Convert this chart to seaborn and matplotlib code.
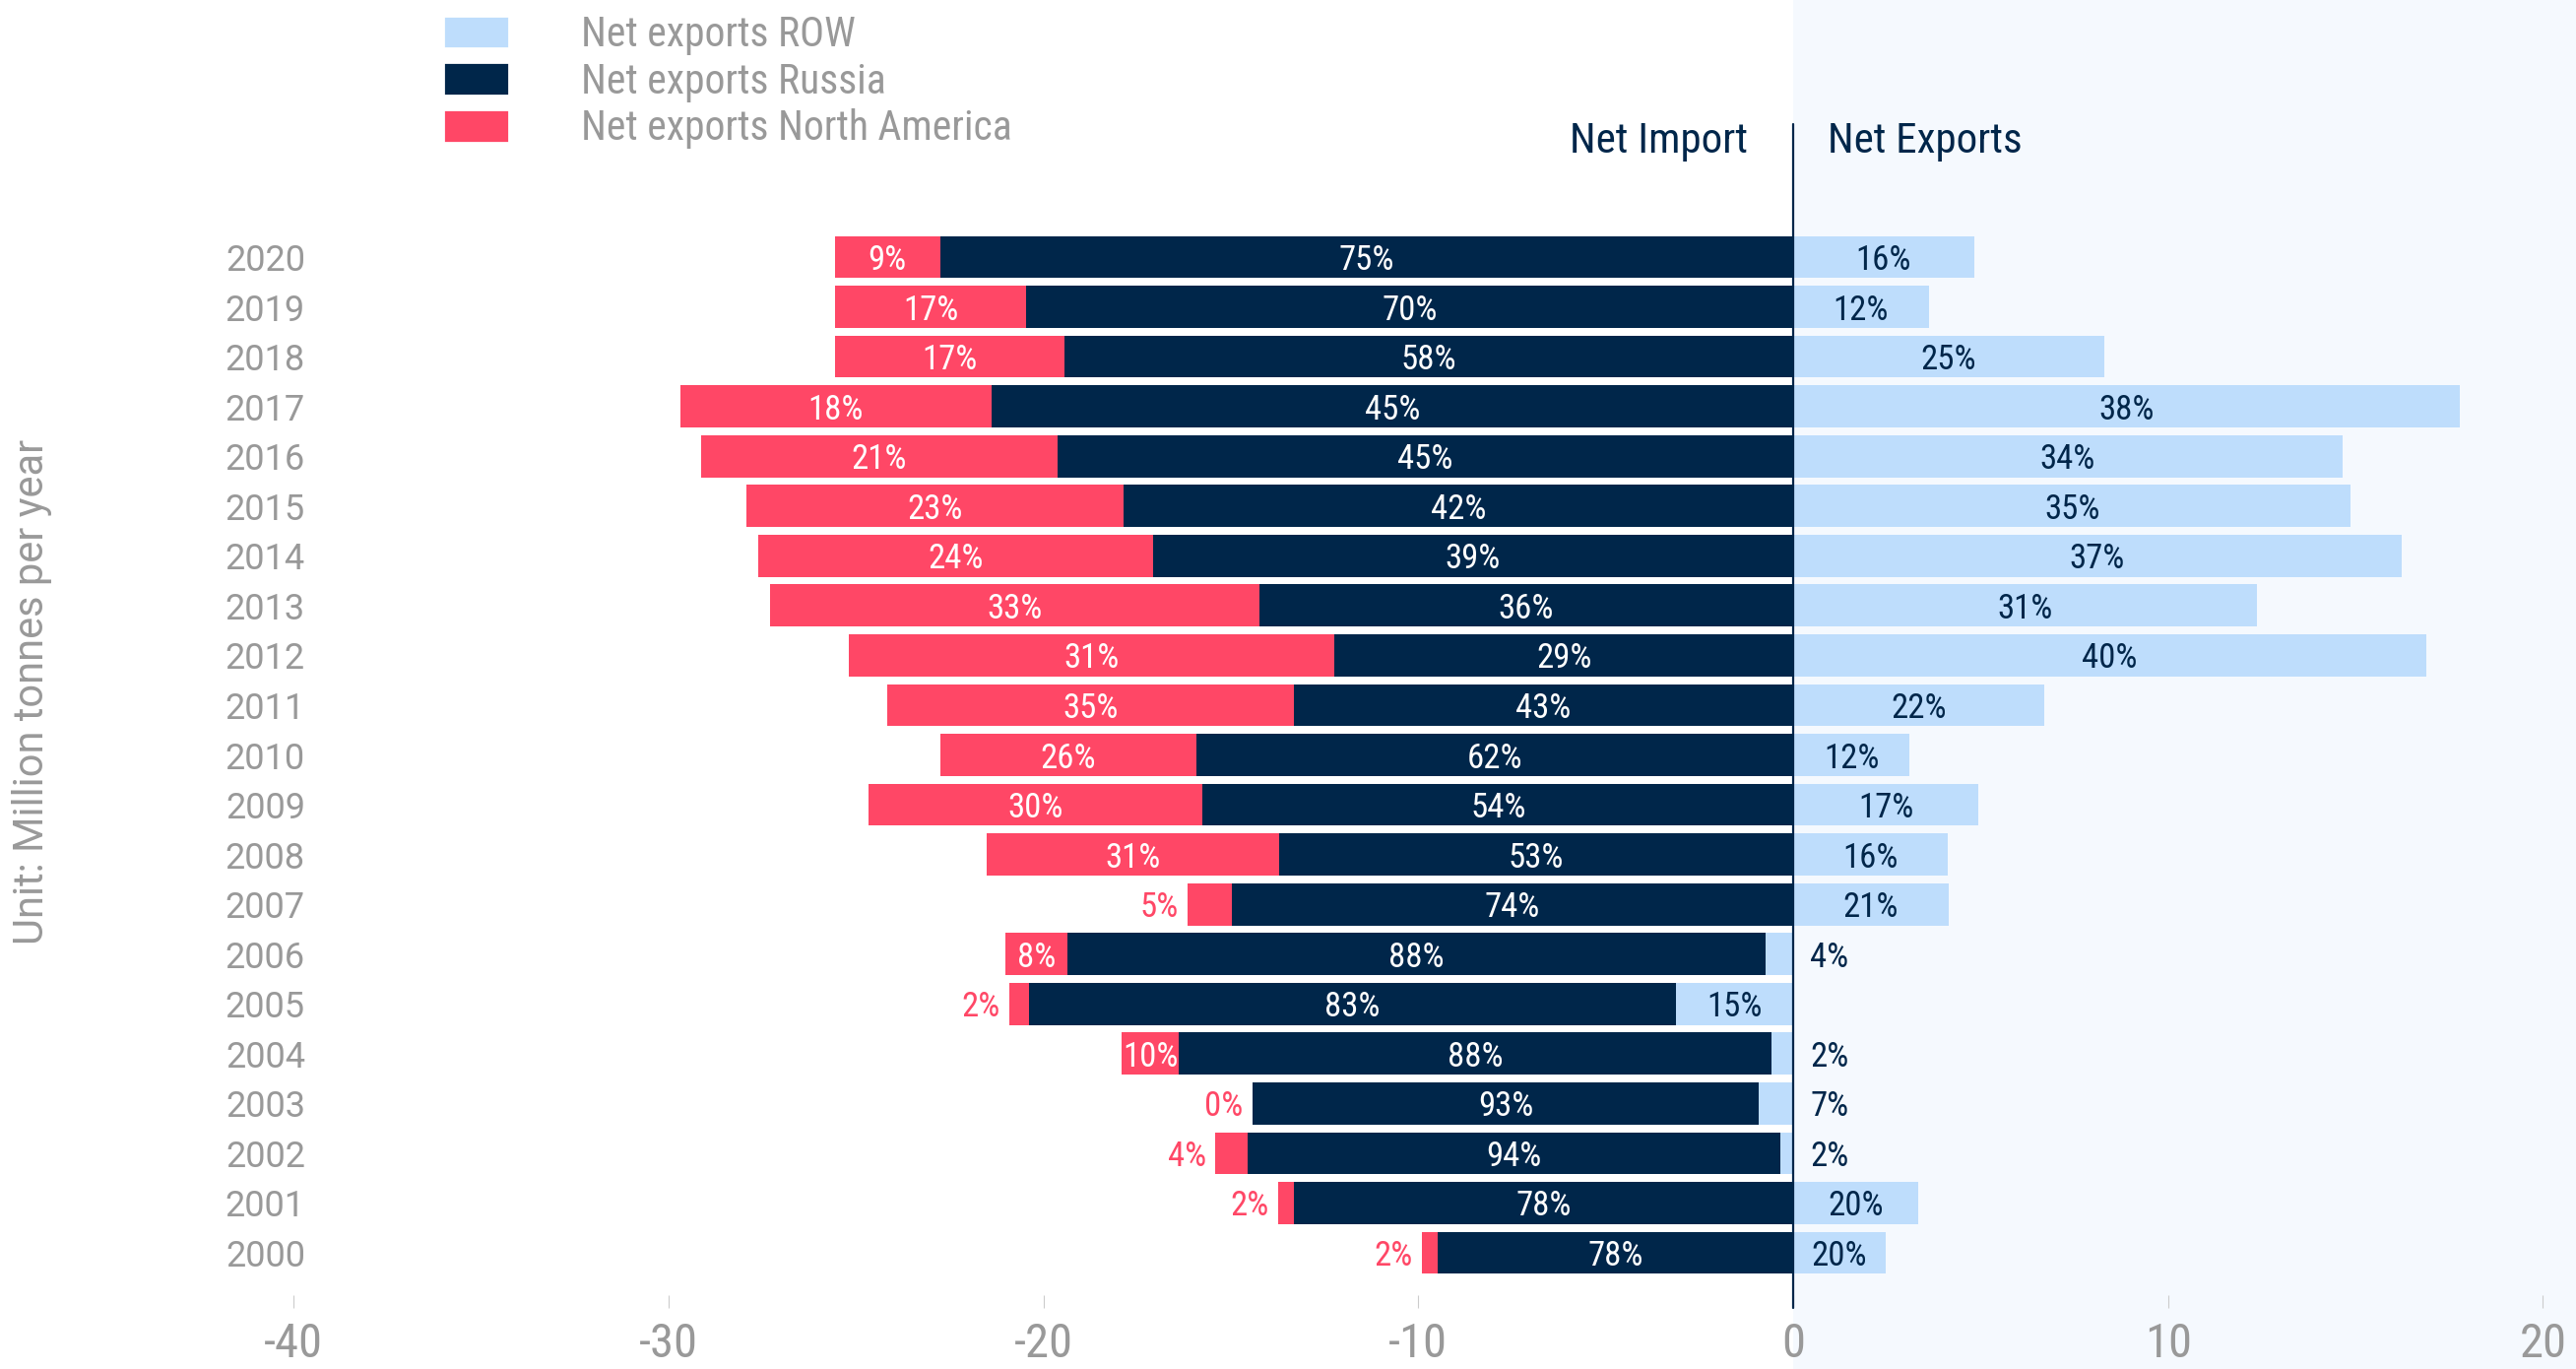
import matplotlib
matplotlib.use('Agg')
import matplotlib.pyplot as plt
import seaborn as sns
import pandas as pd
from matplotlib.patches import Rectangle, Patch
from matplotlib.transforms import blended_transform_factory

# ---------------- data ----------------
years = [str(y) for y in range(2020, 1999, -1)]
row = [4.83, 3.62, 8.30, 17.79, 14.65, 14.88, 16.23, 12.36, 16.89, 6.69, 3.10,
       4.94, 4.13, 4.15, -0.74, -3.13, -0.58, -0.91, -0.34, 3.34, 2.46]
russia = [22.76, 20.46, 19.43, 21.39, 19.63, 17.87, 17.08, 14.25, 12.23, 13.32, 15.93,
          15.75, 13.71, 14.97, 18.61, 17.26, 15.81, 13.52, 14.20, 13.32, 9.49]
north_america = [2.81, 5.09, 6.14, 8.30, 9.51, 10.05, 10.52, 13.04, 12.95, 10.84, 6.83,
                 8.91, 7.81, 1.18, 1.67, 0.52, 1.52, 0.0, 0.87, 0.41, 0.41]
pct_row = [16, 12, 25, 38, 34, 35, 37, 31, 40, 22, 12, 17, 16, 21, 4, 15, 2, 7, 2, 20, 20]
pct_russia = [75, 70, 58, 45, 45, 42, 39, 36, 29, 43, 62, 54, 53, 74, 88, 83, 88, 93, 94, 78, 78]
pct_na = [9, 17, 17, 18, 21, 23, 24, 33, 31, 35, 26, 30, 31, 5, 8, 2, 10, 0, 4, 2, 2]
series_names = ['Net exports ROW', 'Net exports Russia', 'Net exports North America']
x_ticks = [-40, -30, -20, -10, 0, 10, 20]
x_tick_labels = ['-40', '-30', '-20', '-10', '0', '10', '20']

# ---------------- style ----------------
LIGHT = '#BEDDFC'
NAVY = '#00264A'
RED = '#FF4766'
GREY = '#999999'
BG = '#F5F9FE'

sns.set_theme(style='white')
COND = ['Roboto Condensed', 'Roboto', 'DejaVu Sans']
plt.rcParams['font.family'] = COND
plt.rcParams['axes.unicode_minus'] = False

W, H, DPI = 2616, 1390, 200
fig = plt.figure(figsize=(W / DPI, H / DPI), dpi=DPI)
fig.patch.set_facecolor('white')

x0_px, ppu = 1821, 38.07
xmin, xmax = -41.0, 20.85
ax_left_px = x0_px + xmin * ppu
ax_right_px = x0_px + xmax * ppu
ax_top_px, ax_bot_px = 126, 1315
ax = fig.add_axes([ax_left_px / W, 1 - ax_bot_px / H,
                   (ax_right_px - ax_left_px) / W, (ax_bot_px - ax_top_px) / H])
ax.set_facecolor('none')

# light background on the export side
fig.patches.append(Rectangle((x0_px / W, 0), 1 - x0_px / W, 1, transform=fig.transFigure,
                             facecolor=BG, edgecolor='none', zorder=-10))

df = pd.DataFrame({'year': years, 'row': row, 'russia': russia, 'na': north_america})
df['ru_end'] = df['row'].clip(upper=0) - df['russia']
df['na_end'] = df['ru_end'] - df['na']

for col, c in [('na_end', RED), ('ru_end', NAVY), ('row', LIGHT)]:
    sns.barplot(data=df, x=col, y='year', order=years, orient='h', color=c,
                saturation=1, width=0.845, linewidth=0, errorbar=None, ax=ax)

ax.set_xlim(xmin, xmax)
ax.set_ylim(20.85, -2.67)
ax.set_xlabel('')
ax.set_ylabel('')

# value labels
LS = 12.5
VA = 'center_baseline'
for i, r in df.iterrows():
    rneg = min(r['row'], 0)
    ax.text((r['ru_end'] + rneg) / 2, i, f"{pct_russia[i]}%", ha='center', va=VA,
            color='white', fontsize=LS, zorder=6)
    if r['na'] > 1.4:
        ax.text((r['na_end'] + r['ru_end']) / 2, i, f"{pct_na[i]}%", ha='center', va=VA,
                color='white', fontsize=LS, zorder=6)
    else:
        ax.text(r['na_end'] - 0.25, i, f"{pct_na[i]}%", ha='right', va=VA,
                color=RED, fontsize=LS, zorder=6)
    if r['row'] > 0 or abs(r['row']) > 2:
        ax.text(r['row'] / 2, i, f"{pct_row[i]}%", ha='center', va=VA,
                color=NAVY, fontsize=LS, zorder=6)
    else:
        ax.text(0.45, i, f"{pct_row[i]}%", ha='left', va=VA,
                color=NAVY, fontsize=LS, zorder=6)

# zero line
ax.axvline(0, ymin=-13 / (ax_bot_px - ax_top_px), ymax=1, color=NAVY, lw=0.8,
           clip_on=False, zorder=7)

# ticks
ax.set_xticks(x_ticks)
ax.set_xticklabels(x_tick_labels)
ax.tick_params(axis='x', bottom=True, length=4.7, width=0.4, color='#cccccc',
               labelcolor=GREY, labelsize=17.5, pad=5)
ax.tick_params(axis='y', left=False, length=0, labelcolor=GREY, labelsize=13,
               pad=-(310 - ax_left_px) / (DPI / 72))
for lbl in ax.get_yticklabels():
    lbl.set_fontfamily('Roboto')
for s in ax.spines.values():
    s.set_visible(False)

# Net import / export headings
trans = blended_transform_factory(ax.transData, fig.transFigure)
ax.text(-1.2, 1 - 155 / H, 'Net Import', ha='right', va='baseline', color=NAVY,
        fontsize=15.5, transform=trans)
ax.text(0.92, 1 - 155 / H, 'Net Exports', ha='left', va='baseline', color=NAVY,
        fontsize=15.5, transform=trans)

# unit label
fig.text(33 / W, 1 - 702 / H, 'Unit: Million tonnes per year', rotation=90,
         ha='center', va='center', fontsize=15, color=GREY, family='Roboto')

# legend
LF = 15
fpx = LF * DPI / 72
handles = [Patch(facecolor=LIGHT), Patch(facecolor=NAVY), Patch(facecolor=RED)]
fig.legend(handles=handles, labels=series_names, loc='upper left',
           bbox_to_anchor=(450 / W, 1 - 15 / H), frameon=False, fontsize=LF,
           labelcolor=GREY, handlelength=67 / fpx, handleheight=36 / fpx,
           handletextpad=73 / fpx, labelspacing=0.16, borderpad=0, borderaxespad=0)

fig.savefig('out.png', dpi=DPI)
